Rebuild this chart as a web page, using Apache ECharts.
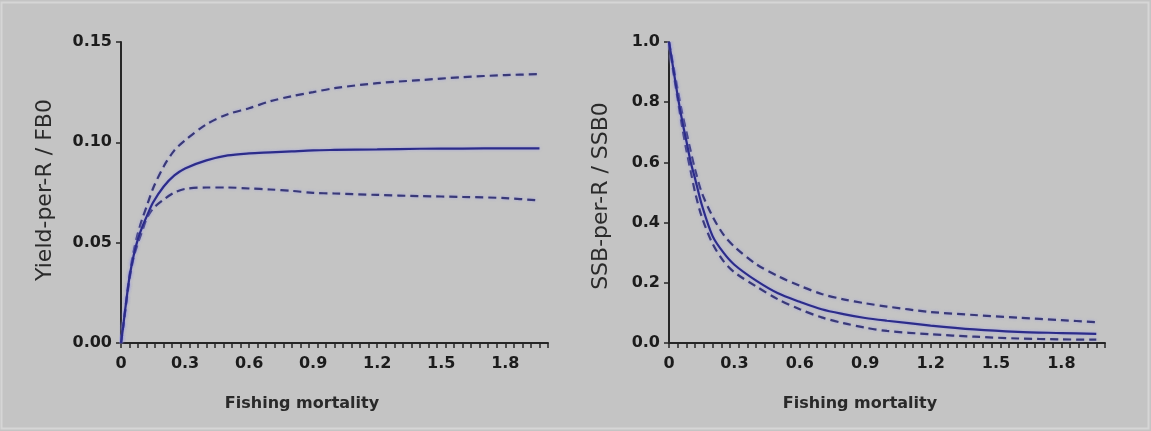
<!DOCTYPE html>
<html>
<head>
<meta charset="utf-8">
<script src="https://cdn.jsdelivr.net/npm/echarts@6/dist/echarts.min.js"></script>
<style>
  html, body { margin: 0; padding: 0; background: #c4c4c4; }
  #chart { width: 1151px; height: 431px; }
</style>
</head>
<body>
<div id="chart"></div>
<script>
// Fishing mortality grid shared by both panels
const fishingF = [0, 0.01, 0.02, 0.04, 0.06, 0.08, 0.10, 0.12, 0.15, 0.2, 0.25, 0.3, 0.4, 0.5, 0.6, 0.7, 0.8, 0.9, 1.0, 1.2, 1.4, 1.6, 1.8, 1.96];

// Yield-per-recruit relative to FB0 (median and bounds)
const yieldMid   = [0, 0.008, 0.017, 0.033, 0.044, 0.052, 0.058, 0.063, 0.070, 0.078, 0.0835, 0.087, 0.091, 0.0935, 0.0945, 0.095, 0.0955, 0.096, 0.0962, 0.0965, 0.0968, 0.0969, 0.097, 0.097];
const yieldUpper = [0, 0.008, 0.017, 0.034, 0.046, 0.055, 0.062, 0.068, 0.077, 0.088, 0.096, 0.101, 0.109, 0.114, 0.117, 0.1205, 0.123, 0.125, 0.127, 0.1295, 0.131, 0.1325, 0.1335, 0.134];
const yieldLower = [0, 0.008, 0.016, 0.032, 0.043, 0.050, 0.056, 0.062, 0.067, 0.0715, 0.075, 0.0768, 0.0775, 0.0775, 0.077, 0.0765, 0.0758, 0.0748, 0.0745, 0.0738, 0.0732, 0.0728, 0.0722, 0.071];

// Spawning stock biomass per recruit relative to SSB0 (median and bounds)
const ssbMid   = [1.0, 0.955, 0.91, 0.82, 0.74, 0.67, 0.60, 0.545, 0.46, 0.355, 0.30, 0.26, 0.207, 0.165, 0.137, 0.112, 0.096, 0.083, 0.074, 0.058, 0.045, 0.037, 0.033, 0.030];
const ssbUpper = [1.0, 0.96, 0.92, 0.84, 0.765, 0.70, 0.635, 0.575, 0.50, 0.42, 0.36, 0.32, 0.262, 0.222, 0.19, 0.163, 0.145, 0.132, 0.121, 0.103, 0.093, 0.084, 0.076, 0.069];
const ssbLower = [1.0, 0.95, 0.90, 0.81, 0.72, 0.64, 0.57, 0.50, 0.42, 0.33, 0.272, 0.235, 0.188, 0.145, 0.112, 0.085, 0.066, 0.051, 0.040, 0.029, 0.021, 0.015, 0.012, 0.011];

// Tick labels
const xTickLabels = ['0', '0.3', '0.6', '0.9', '1.2', '1.5', '1.8'];
const yieldTickLabels = ['0.00', '0.05', '0.10', '0.15'];
const ssbTickLabels = ['0.0', '0.2', '0.4', '0.6', '0.8', '1.0'];

const xTitle = 'Fishing mortality';
const yieldTitle = 'Yield-per-R / FB0';
const ssbTitle = 'SSB-per-R / SSB0';

const pairs = (xs, ys) => xs.map((x, i) => [x, ys[i]]);

const FONT = '"DejaVu Sans", Verdana, sans-serif';
const AXIS_COLOR = '#262626';
const LINE_COLOR = '#2c2c8a';
const DASH_COLOR = '#393978';

const labelStyle = { color: '#1c1c1c', fontFamily: FONT, fontWeight: 'bold', fontSize: 16 };

function pickLabel(labels, step) {
  return function (v) {
    const k = v / step;
    const i = Math.round(k);
    if (Math.abs(k - i) > 1e-6 || i < 0 || i >= labels.length) return '';
    return labels[i];
  };
}

// Two x axes per panel: one carries the fine tick marks, the other the labels
function xAxesFor(gridIndex) {
  return [
    {
      gridIndex, type: 'value', min: 0, max: 2.0, interval: 0.04,
      axisLine: { show: true, lineStyle: { color: AXIS_COLOR, width: 2 } },
      axisTick: { show: true, length: 5, lineStyle: { color: AXIS_COLOR, width: 1.5 } },
      axisLabel: { show: false },
      splitLine: { show: false }
    },
    {
      gridIndex, type: 'value', min: 0, max: 2.0, interval: 0.3, position: 'bottom',
      axisLine: { show: false }, axisTick: { show: false },
      axisLabel: Object.assign({ margin: 13, formatter: pickLabel(xTickLabels, 0.3) }, labelStyle),
      splitLine: { show: false }
    }
  ];
}

function yAxisFor(gridIndex, max, interval, labels) {
  return {
    gridIndex, type: 'value', min: 0, max, interval,
    axisLine: { show: true, lineStyle: { color: AXIS_COLOR, width: 2 } },
    axisTick: { show: true, length: 5, lineStyle: { color: AXIS_COLOR, width: 1.5 } },
    axisLabel: Object.assign({ margin: 9, formatter: pickLabel(labels, interval) }, labelStyle),
    splitLine: { show: false }
  };
}

function lineSeries(xAxisIndex, yAxisIndex, ys, dashed) {
  return {
    type: 'line', xAxisIndex, yAxisIndex,
    data: pairs(fishingF, ys),
    showSymbol: false, symbol: 'none', smooth: 0.3,
    lineStyle: {
      color: dashed ? DASH_COLOR : LINE_COLOR,
      width: 2.2,
      type: dashed ? [8, 5] : 'solid',
      shadowColor: 'rgba(150,150,235,0.7)', shadowBlur: 3
    },
    silent: true, animation: false
  };
}

const chart = echarts.init(document.getElementById('chart'), null, { renderer: 'canvas' });

chart.setOption({
  backgroundColor: '#c4c4c4',
  animation: false,
  grid: [
    { left: 121, top: 42, width: 427, height: 301 },
    { left: 669, top: 42, width: 436, height: 301 }
  ],
  xAxis: [...xAxesFor(0), ...xAxesFor(1)],
  yAxis: [
    yAxisFor(0, 0.15, 0.05, yieldTickLabels),
    yAxisFor(1, 1.0, 0.2, ssbTickLabels)
  ],
  series: [
    lineSeries(0, 0, yieldUpper, true),
    lineSeries(0, 0, yieldLower, true),
    lineSeries(0, 0, yieldMid, false),
    lineSeries(2, 1, ssbUpper, true),
    lineSeries(2, 1, ssbLower, true),
    lineSeries(2, 1, ssbMid, false)
  ],
  graphic: [
    {
      type: 'rect', silent: true, z: -1,
      shape: { x: 1.5, y: 2.5, width: 1147, height: 426 },
      style: { fill: 'none', stroke: '#d6d6d6', lineWidth: 2 }
    },
    {
      type: 'text', x: 45, y: 190, rotation: Math.PI / 2,
      style: { text: yieldTitle, fill: '#2a2a2a', font: '22px ' + FONT, textAlign: 'center', textVerticalAlign: 'middle' }
    },
    {
      type: 'text', x: 601, y: 196, rotation: Math.PI / 2,
      style: { text: ssbTitle, fill: '#2a2a2a', font: '22px ' + FONT, textAlign: 'center', textVerticalAlign: 'middle' }
    },
    {
      type: 'text', x: 302, y: 404,
      style: { text: xTitle, fill: '#2a2a2a', font: 'bold 16px ' + FONT, textAlign: 'center', textVerticalAlign: 'middle' }
    },
    {
      type: 'text', x: 860, y: 404,
      style: { text: xTitle, fill: '#2a2a2a', font: 'bold 16px ' + FONT, textAlign: 'center', textVerticalAlign: 'middle' }
    }
  ]
});
</script>
</body>
</html>
